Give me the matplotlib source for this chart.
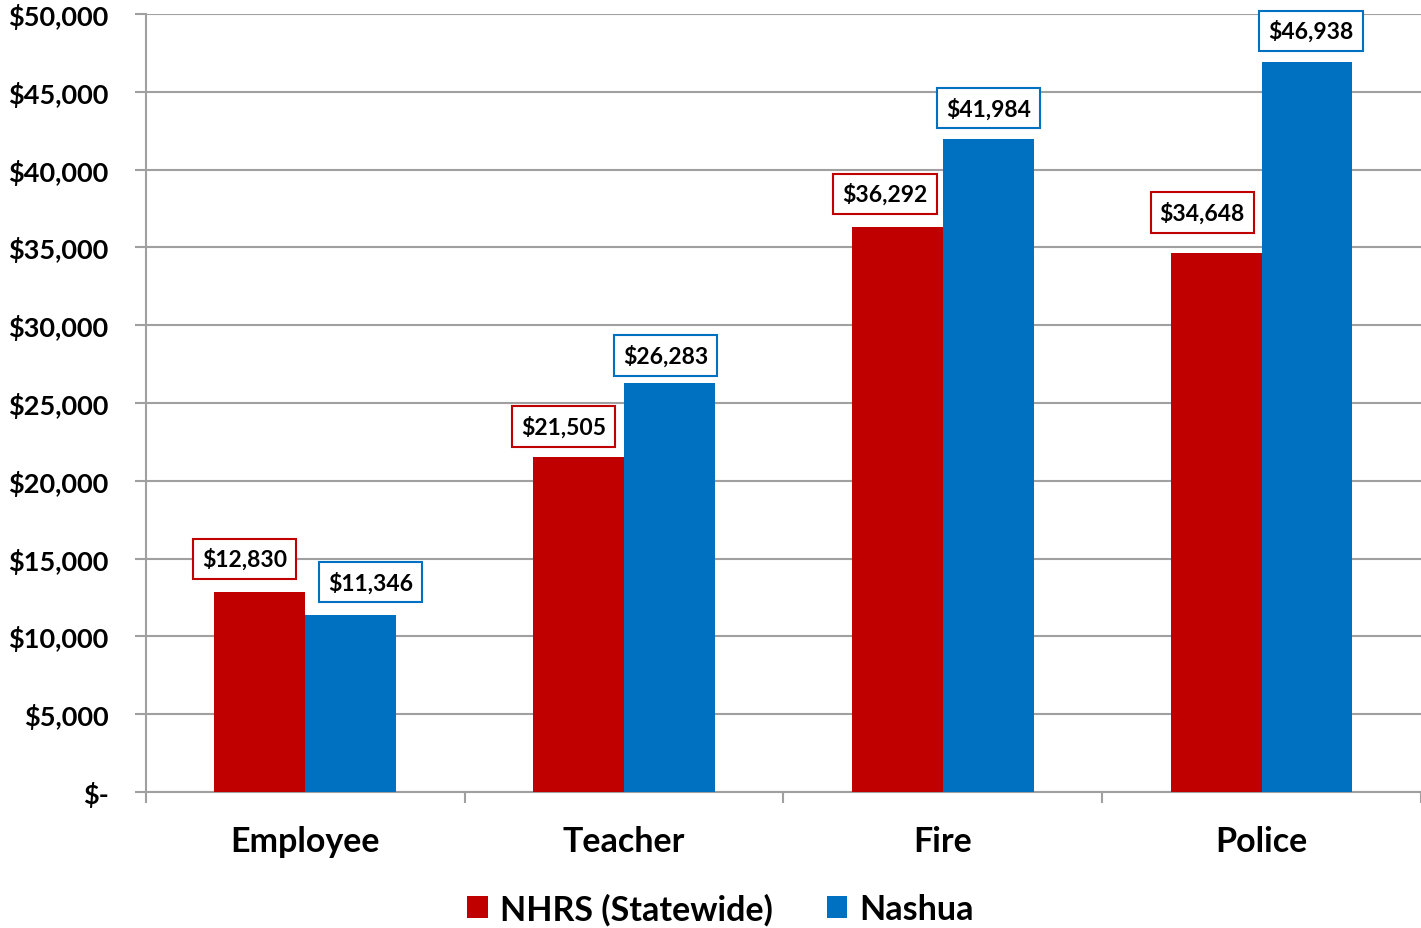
import numpy as np
import matplotlib
matplotlib.use("Agg")
import matplotlib.pyplot as plt
from matplotlib.ticker import FuncFormatter, FixedLocator

plt.rcParams['font.family'] = ['Lato', 'DejaVu Sans']
plt.rcParams['font.weight'] = 'bold'

categories = ["Employee", "Teacher", "Fire", "Police"]
series_names = ["NHRS (Statewide)", "Nashua"]
nhrs = [12830, 21505, 36292, 34648]
nashua = [11346, 26283, 41984, 46938]
colors = ["#C00000", "#0070C0"]

# label offsets in points (dx, dy) so boxes do not collide
nhrs_offsets = [(-11, 24), (-11, 22), (-9, 24), (-10, 29)]
nashua_offsets = [(14, 24), (-3, 20), (0, 22), (3, 22)]


def money(v, pos=None):
    if v == 0:
        return "$-"
    return "${:,.0f}".format(v)


fig = plt.figure(figsize=(14.21, 9.29), dpi=100)
ax = fig.add_axes([0.1027, 0.1464, 0.8973, 0.8375])

x = np.arange(len(categories))
w = 0.285
b1 = ax.bar(x - w / 2, nhrs, w, color=colors[0], label=series_names[0], zorder=3)
b2 = ax.bar(x + w / 2, nashua, w, color=colors[1], label=series_names[1], zorder=3)

for bars, vals, offs, c in [(b1, nhrs, nhrs_offsets, colors[0]),
                            (b2, nashua, nashua_offsets, colors[1])]:
    for bar, v, (dx, dy) in zip(bars, vals, offs):
        ax.annotate(money(v), (bar.get_x() + bar.get_width() / 2, v),
                    xytext=(dx, dy), textcoords="offset points",
                    ha="center", va="center", fontsize=16.5, fontweight="bold",
                    bbox=dict(boxstyle="square,pad=0.4", fc="white", ec=c, lw=1.5),
                    zorder=5)

ax.set_xlim(-0.5, 3.5)
ax.set_ylim(0, 50000)
ax.set_yticks(np.arange(0, 50001, 5000))
ax.yaxis.set_major_formatter(FuncFormatter(money))
ax.grid(axis="y", color="#A0A0A0", lw=1.5, zorder=0)
ax.set_axisbelow(True)

ax.set_xticks(x)
ax.set_xticklabels(categories, fontsize=24.5, fontweight="bold")
ax.xaxis.set_minor_locator(FixedLocator([-0.5, 0.5, 1.5, 2.5, 3.5]))
ax.tick_params(axis="x", which="major", length=0, pad=24)
ax.tick_params(axis="x", which="minor", length=8, width=1.5, color="#A0A0A0")
ax.tick_params(axis="y", length=8, width=1.5, color="#A0A0A0", labelsize=19.5, pad=19)
for lbl in ax.get_yticklabels():
    lbl.set_fontweight("bold")

for s in ["top", "right"]:
    ax.spines[s].set_visible(False)
for s in ["left", "bottom"]:
    ax.spines[s].set_color("#A0A0A0")
    ax.spines[s].set_linewidth(1.5)

fig.legend(loc="center", bbox_to_anchor=(0.507, 1 - 910 / 929), ncol=2, frameon=False,
           prop={"size": 24.5, "weight": "bold"}, handlelength=0.6, handleheight=0.6,
           handletextpad=0.35, columnspacing=1.6)

fig.savefig("out.png", dpi=100)
